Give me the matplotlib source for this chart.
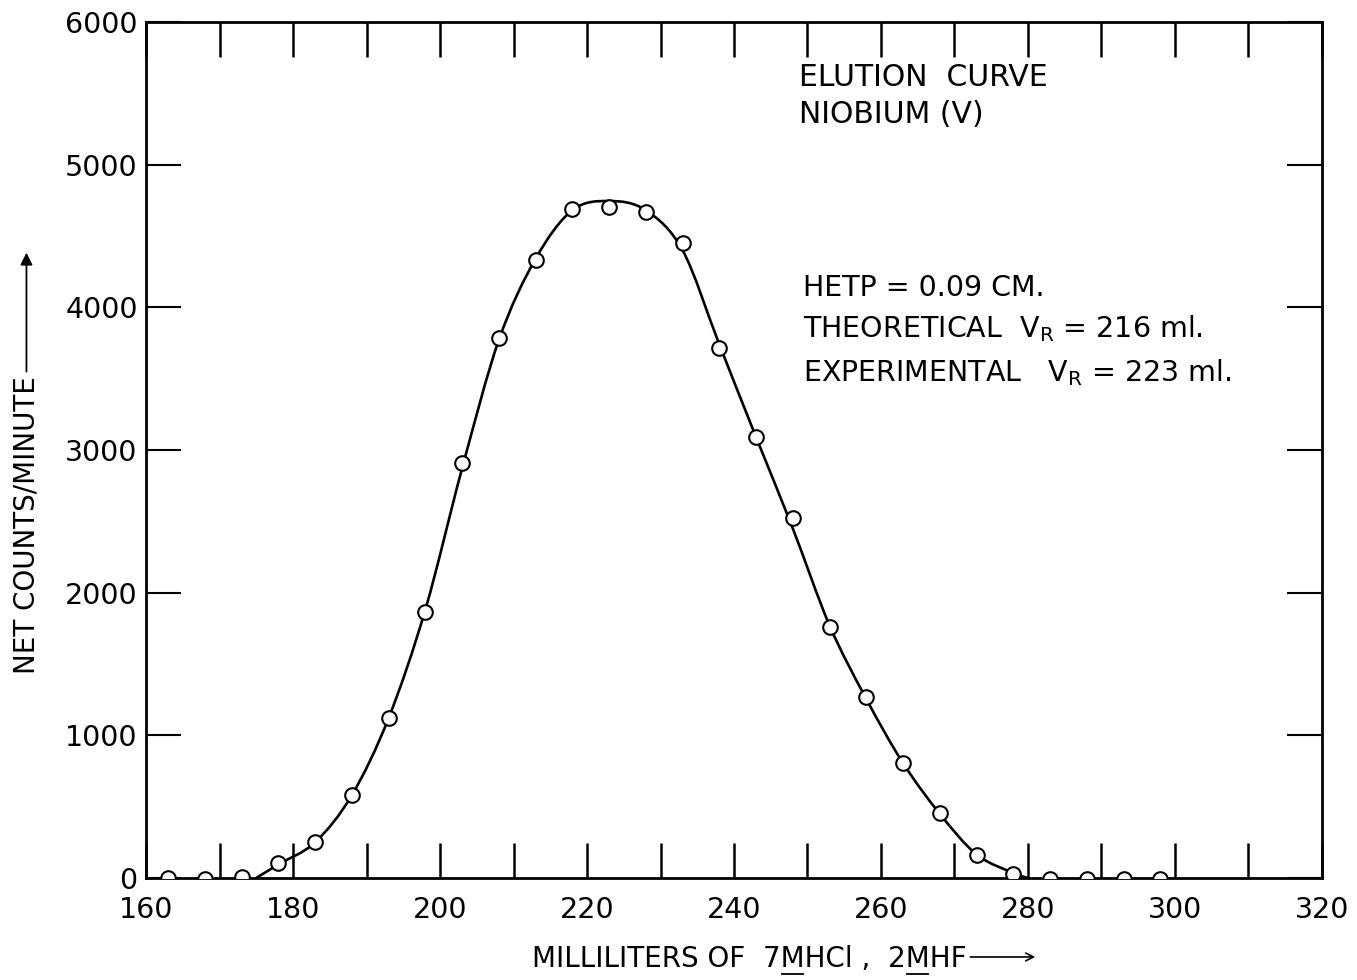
import numpy as np
import matplotlib
matplotlib.use("Agg")
import matplotlib.pyplot as plt
from matplotlib.path import Path
from matplotlib.patches import PathPatch

# punkty pomiarowe
ml = [163, 168, 173, 178, 183, 188, 193, 198, 203, 208, 213, 218, 223, 228,
      233, 238, 243, 248, 253, 258, 263, 268, 273, 278, 283, 288, 293, 298]
counts = [0, -5, 5, 105, 252, 582, 1121, 1864, 2908, 3784, 4331, 4688, 4702, 4667,
          4450, 3718, 3090, 2523, 1759, 1268, 806, 455, 161, 28, -8, -8, -8, -8]

# wezly krzywej narysowanej recznie na oryginale
curve_ml = [175, 178, 183, 188, 193, 198, 203, 208, 213, 218, 223, 228,
            233, 238, 243, 248, 253, 258, 263, 268, 273, 278, 280]
curve_counts = [0, 95, 250, 580, 1120, 1880, 2870, 3770, 4340, 4680, 4745, 4680,
                4400, 3740, 3090, 2450, 1770, 1255, 805, 450, 165, 35, 0]

x_ticks = [160, 180, 200, 220, 240, 260, 280, 300, 320]
y_ticks = [0, 1000, 2000, 3000, 4000, 5000, 6000]

plt.rcParams['font.family'] = ['DejaVu Sans']


def gladka_sciezka(xs, ys):
    # krzywa Beziera przez wezly (Catmull-Rom), rysowana przez matplotlib
    p = np.column_stack([xs, ys]).astype(float)
    p = np.vstack([p[0], p, p[-1]])
    verts = [p[1]]
    codes = [Path.MOVETO]
    for i in range(1, len(p) - 2):
        c1 = p[i] + (p[i + 1] - p[i - 1]) / 6
        c2 = p[i + 1] - (p[i + 2] - p[i]) / 6
        verts += [c1, c2, p[i + 1]]
        codes += [Path.CURVE4] * 3
    return Path(verts, codes)


fig = plt.figure(figsize=(13.57, 9.8), dpi=100)
ax = fig.add_axes([0.1076, 0.1041, 0.8666, 0.8735])

ax.add_patch(PathPatch(gladka_sciezka(curve_ml, curve_counts), facecolor='none',
                       edgecolor='black', linewidth=1.9, zorder=2))
ax.plot(ml, counts, linestyle='none', marker='o', markersize=10.5,
        markerfacecolor='white', markeredgecolor='black', markeredgewidth=1.5, zorder=3)

ax.set_xlim(160, 320)
ax.set_ylim(0, 6000)
ax.set_xticks(x_ticks)
ax.set_xticks(np.arange(170, 320, 10), minor=True)
ax.set_yticks(y_ticks)

for s in ax.spines.values():
    s.set_linewidth(2.0)

ax.tick_params(axis='x', which='both', direction='in', length=25, width=1.8,
               top=True, bottom=True, labelsize=20.5, pad=13)
ax.tick_params(axis='y', which='both', direction='in', length=25, width=1.5,
               left=True, right=True, labelsize=20.5, pad=6)

ax.text(0.5555, 0.925, "ELUTION  CURVE", transform=ax.transAxes, fontsize=21.5)
ax.text(0.5555, 0.882, "NIOBIUM (V)", transform=ax.transAxes, fontsize=21.5)

ax.text(0.5585, 0.680, "HETP = 0.09 CM.", transform=ax.transAxes, fontsize=20.5)
ax.text(0.5585, 0.632, r"THEORETICAL  V$_\mathregular{R}$ = 216 ml.", transform=ax.transAxes, fontsize=20.5)
ax.text(0.5585, 0.580, r"EXPERIMENTAL   V$_\mathregular{R}$ = 223 ml.", transform=ax.transAxes, fontsize=20.5)

# opis osi x z podkreslonym M (molowosc)
xlab = "MILLILITERS OF  7MHCl ,  2MHF"
t = fig.text(0.552, 0.013, xlab, ha='center', va='baseline', fontsize=20)
r = fig.canvas.get_renderer()
bb = t.get_window_extent(r)


def szer(s):
    tmp = fig.text(0, 0, s, fontsize=20)
    w = tmp.get_window_extent(r).width
    tmp.remove()
    return w


for idx in [xlab.index("7M") + 1, xlab.index("2M") + 1]:
    x0 = bb.x0 + szer(xlab[:idx])
    x1 = bb.x0 + szer(xlab[:idx + 1])
    fig.add_artist(plt.Line2D([x0 / fig.bbox.width + 0.001, x1 / fig.bbox.width - 0.001],
                              [0.006, 0.006], color='black', linewidth=1.3))

ax.annotate("", xy=(0.765, 0.0235), xytext=(0.713, 0.0235), xycoords='figure fraction',
            arrowprops=dict(arrowstyle='->', color='black', linewidth=1.2, mutation_scale=14))
fig.text(0.0195, 0.464, "NET COUNTS/MINUTE", rotation=90, ha='center', va='center', fontsize=20)
ax.annotate("", xy=(0.0195, 0.745), xytext=(0.0195, 0.618), xycoords='figure fraction',
            arrowprops=dict(arrowstyle='-|>', color='black', linewidth=1.3, mutation_scale=18))

fig.savefig("out.png", dpi=100)
